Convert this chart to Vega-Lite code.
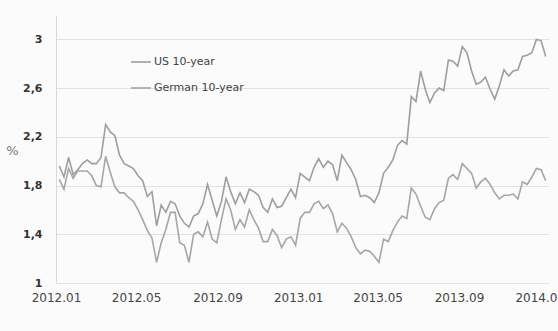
{
  "$schema": "https://vega.github.io/schema/vega-lite/v6.json",
  "autosize": "none",
  "width": 493,
  "height": 268,
  "padding": {"left": 56, "top": 15, "right": 9, "bottom": 48},
  "background": "#fbfbfb",
  "config": {"view": {"stroke": null}, "font": "DejaVu Sans"},
  "data": {"values": [
    {"date":"2012-01-06","US 10-year":1.96,"German 10-year":1.85},
    {"date":"2012-01-13","US 10-year":1.87,"German 10-year":1.77},
    {"date":"2012-01-20","US 10-year":2.03,"German 10-year":1.94},
    {"date":"2012-01-27","US 10-year":1.89,"German 10-year":1.86},
    {"date":"2012-02-03","US 10-year":1.93,"German 10-year":1.92},
    {"date":"2012-02-10","US 10-year":1.98,"German 10-year":1.92},
    {"date":"2012-02-17","US 10-year":2.01,"German 10-year":1.92},
    {"date":"2012-02-24","US 10-year":1.98,"German 10-year":1.88},
    {"date":"2012-03-02","US 10-year":1.98,"German 10-year":1.80},
    {"date":"2012-03-09","US 10-year":2.03,"German 10-year":1.79},
    {"date":"2012-03-16","US 10-year":2.30,"German 10-year":2.04},
    {"date":"2012-03-23","US 10-year":2.24,"German 10-year":1.91},
    {"date":"2012-03-30","US 10-year":2.21,"German 10-year":1.79},
    {"date":"2012-04-06","US 10-year":2.05,"German 10-year":1.74},
    {"date":"2012-04-13","US 10-year":1.98,"German 10-year":1.74},
    {"date":"2012-04-20","US 10-year":1.96,"German 10-year":1.70},
    {"date":"2012-04-27","US 10-year":1.94,"German 10-year":1.67},
    {"date":"2012-05-04","US 10-year":1.88,"German 10-year":1.60},
    {"date":"2012-05-11","US 10-year":1.84,"German 10-year":1.52},
    {"date":"2012-05-18","US 10-year":1.71,"German 10-year":1.43},
    {"date":"2012-05-25","US 10-year":1.75,"German 10-year":1.37},
    {"date":"2012-06-01","US 10-year":1.47,"German 10-year":1.17},
    {"date":"2012-06-08","US 10-year":1.64,"German 10-year":1.33},
    {"date":"2012-06-15","US 10-year":1.58,"German 10-year":1.44},
    {"date":"2012-06-22","US 10-year":1.67,"German 10-year":1.58},
    {"date":"2012-06-29","US 10-year":1.65,"German 10-year":1.58},
    {"date":"2012-07-06","US 10-year":1.55,"German 10-year":1.33},
    {"date":"2012-07-13","US 10-year":1.49,"German 10-year":1.31},
    {"date":"2012-07-20","US 10-year":1.46,"German 10-year":1.17},
    {"date":"2012-07-27","US 10-year":1.55,"German 10-year":1.40},
    {"date":"2012-08-03","US 10-year":1.57,"German 10-year":1.42},
    {"date":"2012-08-10","US 10-year":1.65,"German 10-year":1.38},
    {"date":"2012-08-17","US 10-year":1.81,"German 10-year":1.50},
    {"date":"2012-08-24","US 10-year":1.68,"German 10-year":1.36},
    {"date":"2012-08-31","US 10-year":1.55,"German 10-year":1.33},
    {"date":"2012-09-07","US 10-year":1.67,"German 10-year":1.52},
    {"date":"2012-09-14","US 10-year":1.87,"German 10-year":1.69},
    {"date":"2012-09-21","US 10-year":1.75,"German 10-year":1.60},
    {"date":"2012-09-28","US 10-year":1.65,"German 10-year":1.44},
    {"date":"2012-10-05","US 10-year":1.74,"German 10-year":1.52},
    {"date":"2012-10-12","US 10-year":1.66,"German 10-year":1.46},
    {"date":"2012-10-19","US 10-year":1.77,"German 10-year":1.60},
    {"date":"2012-10-26","US 10-year":1.75,"German 10-year":1.52},
    {"date":"2012-11-02","US 10-year":1.72,"German 10-year":1.45},
    {"date":"2012-11-09","US 10-year":1.62,"German 10-year":1.34},
    {"date":"2012-11-16","US 10-year":1.58,"German 10-year":1.34},
    {"date":"2012-11-23","US 10-year":1.69,"German 10-year":1.44},
    {"date":"2012-11-30","US 10-year":1.62,"German 10-year":1.39},
    {"date":"2012-12-07","US 10-year":1.63,"German 10-year":1.29},
    {"date":"2012-12-14","US 10-year":1.70,"German 10-year":1.36},
    {"date":"2012-12-21","US 10-year":1.77,"German 10-year":1.38},
    {"date":"2012-12-28","US 10-year":1.70,"German 10-year":1.31},
    {"date":"2013-01-04","US 10-year":1.90,"German 10-year":1.53},
    {"date":"2013-01-11","US 10-year":1.87,"German 10-year":1.58},
    {"date":"2013-01-18","US 10-year":1.84,"German 10-year":1.58},
    {"date":"2013-01-25","US 10-year":1.95,"German 10-year":1.65},
    {"date":"2013-02-01","US 10-year":2.02,"German 10-year":1.67},
    {"date":"2013-02-08","US 10-year":1.95,"German 10-year":1.61},
    {"date":"2013-02-15","US 10-year":2.00,"German 10-year":1.64},
    {"date":"2013-02-22","US 10-year":1.97,"German 10-year":1.57},
    {"date":"2013-03-01","US 10-year":1.84,"German 10-year":1.42},
    {"date":"2013-03-08","US 10-year":2.05,"German 10-year":1.49},
    {"date":"2013-03-15","US 10-year":1.99,"German 10-year":1.45},
    {"date":"2013-03-22","US 10-year":1.93,"German 10-year":1.38},
    {"date":"2013-03-29","US 10-year":1.85,"German 10-year":1.29},
    {"date":"2013-04-05","US 10-year":1.71,"German 10-year":1.24},
    {"date":"2013-04-12","US 10-year":1.72,"German 10-year":1.27},
    {"date":"2013-04-19","US 10-year":1.70,"German 10-year":1.26},
    {"date":"2013-04-26","US 10-year":1.66,"German 10-year":1.22},
    {"date":"2013-05-03","US 10-year":1.74,"German 10-year":1.17},
    {"date":"2013-05-10","US 10-year":1.90,"German 10-year":1.36},
    {"date":"2013-05-17","US 10-year":1.95,"German 10-year":1.34},
    {"date":"2013-05-24","US 10-year":2.01,"German 10-year":1.43},
    {"date":"2013-05-31","US 10-year":2.13,"German 10-year":1.50},
    {"date":"2013-06-07","US 10-year":2.17,"German 10-year":1.55},
    {"date":"2013-06-14","US 10-year":2.14,"German 10-year":1.53},
    {"date":"2013-06-21","US 10-year":2.53,"German 10-year":1.78},
    {"date":"2013-06-28","US 10-year":2.49,"German 10-year":1.73},
    {"date":"2013-07-05","US 10-year":2.74,"German 10-year":1.63},
    {"date":"2013-07-12","US 10-year":2.59,"German 10-year":1.54},
    {"date":"2013-07-19","US 10-year":2.48,"German 10-year":1.52},
    {"date":"2013-07-26","US 10-year":2.56,"German 10-year":1.61},
    {"date":"2013-08-02","US 10-year":2.60,"German 10-year":1.66},
    {"date":"2013-08-09","US 10-year":2.58,"German 10-year":1.68},
    {"date":"2013-08-16","US 10-year":2.83,"German 10-year":1.86},
    {"date":"2013-08-23","US 10-year":2.82,"German 10-year":1.89},
    {"date":"2013-08-30","US 10-year":2.78,"German 10-year":1.85},
    {"date":"2013-09-06","US 10-year":2.94,"German 10-year":1.98},
    {"date":"2013-09-13","US 10-year":2.89,"German 10-year":1.94},
    {"date":"2013-09-20","US 10-year":2.74,"German 10-year":1.90},
    {"date":"2013-09-27","US 10-year":2.63,"German 10-year":1.78},
    {"date":"2013-10-04","US 10-year":2.65,"German 10-year":1.83},
    {"date":"2013-10-11","US 10-year":2.69,"German 10-year":1.86},
    {"date":"2013-10-18","US 10-year":2.59,"German 10-year":1.81},
    {"date":"2013-10-25","US 10-year":2.51,"German 10-year":1.74},
    {"date":"2013-11-01","US 10-year":2.62,"German 10-year":1.69},
    {"date":"2013-11-08","US 10-year":2.75,"German 10-year":1.72},
    {"date":"2013-11-15","US 10-year":2.70,"German 10-year":1.72},
    {"date":"2013-11-22","US 10-year":2.74,"German 10-year":1.73},
    {"date":"2013-11-29","US 10-year":2.75,"German 10-year":1.69},
    {"date":"2013-12-06","US 10-year":2.86,"German 10-year":1.83},
    {"date":"2013-12-13","US 10-year":2.87,"German 10-year":1.81},
    {"date":"2013-12-20","US 10-year":2.89,"German 10-year":1.87},
    {"date":"2013-12-27","US 10-year":3.00,"German 10-year":1.94},
    {"date":"2014-01-03","US 10-year":2.99,"German 10-year":1.93},
    {"date":"2014-01-10","US 10-year":2.86,"German 10-year":1.84}
  ]},
  "transform": [{"fold": ["US 10-year", "German 10-year"], "as": ["series", "value"]}],
  "mark": {"type": "line", "strokeWidth": 1.6, "interpolate": "linear"},
  "encoding": {
    "x": {
      "field": "date", "type": "temporal",
      "scale": {"domain": [{"year": 2012, "month": 1, "date": 1}, {"year": 2014, "month": 1, "date": 15}]},
      "axis": {
        "title": null, "format": "%Y.%m", "grid": false, "domain": false, "ticks": false,
        "values": [{"year": 2012, "month": 1, "date": 1}, {"year": 2012, "month": 5, "date": 1}, {"year": 2012, "month": 9, "date": 1}, {"year": 2013, "month": 1, "date": 1}, {"year": 2013, "month": 5, "date": 1}, {"year": 2013, "month": 9, "date": 1}, {"year": 2014, "month": 1, "date": 1}],
        "labelFontSize": 12, "labelColor": "#444", "labelPadding": 9, "labelFont": "DejaVu Sans",
        "labelOverlap": false, "labelFlush": false
      }
    },
    "y": {
      "field": "value", "type": "quantitative",
      "scale": {"domain": [1, 3.2], "nice": false, "zero": false},
      "axis": {
        "title": "%", "titleFontWeight": "normal", "titleFontSize": 13, "titleColor": "#777",
        "titleX": -44, "titleY": 142, "titleAngle": 0,
        "values": [1, 1.4, 1.8, 2.2, 2.6, 3],
        "labelExpr": "replace(toString(datum.value), '.', ',')",
        "labelFontWeight": "bold", "labelFontSize": 11, "labelColor": "#333", "labelPadding": 14,
        "ticks": false, "domain": true, "domainColor": "#d8d8d8",
        "grid": true, "gridColor": "#e2e2e2"
      }
    },
    "color": {
      "field": "series", "type": "nominal",
      "scale": {"domain": ["US 10-year", "German 10-year"], "range": ["#9e9e9e", "#a6a6a6"]},
      "legend": {
        "title": null, "orient": "none", "legendX": 74, "legendY": 36,
        "symbolType": "stroke", "symbolStrokeWidth": 1.6, "symbolSize": 400,
        "labelFontSize": 11, "labelColor": "#444", "labelFont": "DejaVu Sans", "rowPadding": 10, "labelOffset": 2
      }
    }
  }
}
